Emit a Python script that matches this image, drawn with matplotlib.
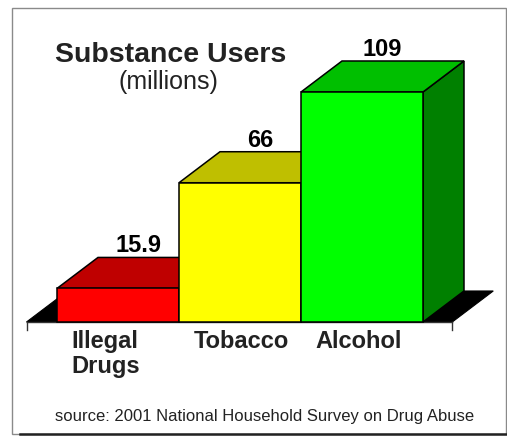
import matplotlib
matplotlib.use("Agg")
import matplotlib.pyplot as plt
from matplotlib.patches import Rectangle, Polygon
from matplotlib.lines import Line2D

plt.rcParams.update({"font.family": ["Liberation Sans", "DejaVu Sans"]})

categories = ["Illegal\nDrugs", "Tobacco", "Alcohol"]
values = [15.9, 66, 109]
value_labels = ["15.9", "66", "109"]
front_colors = ["#ff0000", "#ffff00", "#00ff00"]
top_colors = ["#bf0000", "#bfbf00", "#00bf00"]
side_colors = ["#800000", "#808000", "#008000"]

W, H = 507, 438
fig = plt.figure(figsize=(W / 100, H / 100), dpi=100)
ax = fig.add_axes([0, 0, 1, 1])
# pixel mapping: bar i spans 122 px, first bar starts at x=57 px, floor at y=322 px
PXU, PYU = 122.0, 2.11
ax.set_xlim(-57 / PXU, (W - 57) / PXU)
ax.set_ylim(-(H - 322) / PYU, 322 / PYU)
ax.axis("off")

DX, DY = 0.336, 14.7      # depth offset (x in bar widths, y in millions)
n = len(values)
fx0, fx1 = -0.25, n + 0.24

# floor
ax.add_patch(Polygon([(fx0, 0), (fx1, 0), (fx1 + DX, DY), (fx0 + DX, DY)],
                     closed=True, fc="black", ec="black", lw=0.8, zorder=1))
# axis line with end ticks
ax.add_line(Line2D([fx0, fx1], [0, 0], color="#333333", lw=1.0, zorder=2))
for xe in (fx0, fx1):
    ax.add_line(Line2D([xe, xe], [0, -3.8], color="#333333", lw=1.0, zorder=2))

for i, v in enumerate(values):
    z = 3 + i
    ax.add_patch(Polygon([(i + 1, 0), (i + 1 + DX, DY), (i + 1 + DX, v + DY), (i + 1, v)],
                         closed=True, fc=side_colors[i], ec="black", lw=1.1, zorder=z))
    ax.add_patch(Polygon([(i, v), (i + 1, v), (i + 1 + DX, v + DY), (i + DX, v + DY)],
                         closed=True, fc=top_colors[i], ec="black", lw=1.1, zorder=z))
    ax.add_patch(Rectangle((i, 0), 1, v, fc=front_colors[i], ec="black", lw=1.1, zorder=z))
    ax.text(i + 0.5 + DX * 0.5, v + DY + 2.4, value_labels[i], ha="center", va="baseline",
            fontsize=17, fontweight="bold", color="black", zorder=10)
    ax.text(i + 0.12, -3.6, categories[i], ha="left", va="top", multialignment="left",
            fontsize=17, fontweight="bold", color="#222222", linespacing=1.15, zorder=10)

# titles
fig.text(171 / W, 1 - 62 / H, "Substance Users", ha="center", va="baseline",
         fontsize=20.5, fontweight="bold", color="#222222")
fig.text(168 / W, 1 - 89 / H, "(millions)", ha="center", va="baseline",
         fontsize=18, color="#222222")
fig.text(265 / W, 1 - 421 / H, "source: 2001 National Household Survey on Drug Abuse",
         ha="center", va="baseline", fontsize=12, color="#222222")

# frame
fig.add_artist(Rectangle((12 / W, 1 - 434 / H), (506 - 12) / W, (434 - 8) / H,
                         transform=fig.transFigure, fill=False, ec="#8a8a8a", lw=1.0))
fig.add_artist(Line2D([20 / W, 506 / W], [1 - 434 / H, 1 - 434 / H],
                      transform=fig.transFigure, color="#222222", lw=1.8))

fig.savefig("out.png", dpi=100)
